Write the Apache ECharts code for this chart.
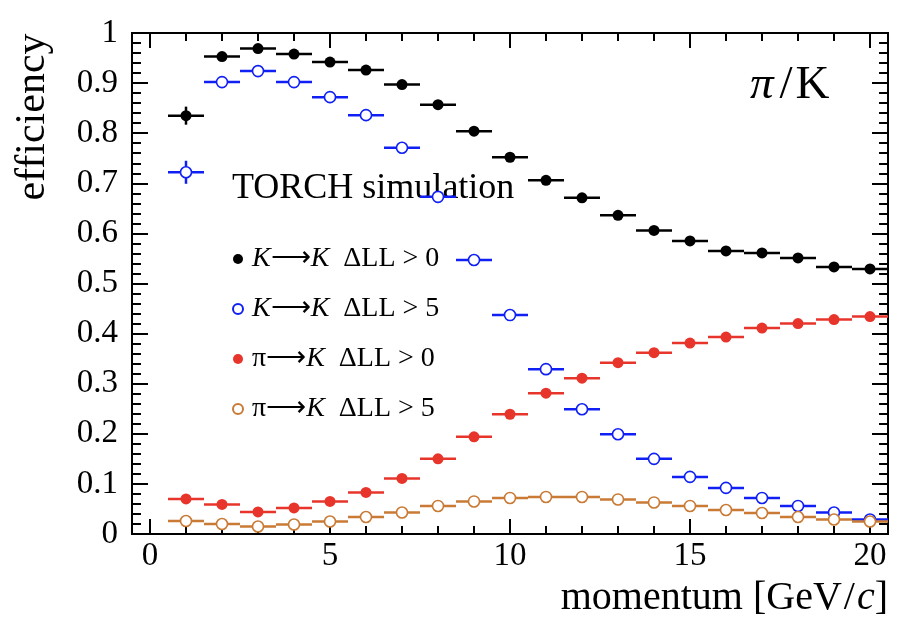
<!DOCTYPE html>
<html lang="en">

<head>
  <meta charset="UTF-8" />
  <title>TORCH simulation efficiency</title>
  <script src="https://cdn.jsdelivr.net/npm/echarts@6.0.0/dist/echarts.min.js"></script>
  <style>
    body {
      margin: 0;
      background: #fff;
    }

    #chart {
      width: 906px;
      height: 632px;
    }
  </style>
</head>

<body>
  <div id="chart"></div>

  <script>
    // momentum bins (GeV/c), bin half-width 0.5
    const momentum = [1, 2, 3, 4, 5, 6, 7, 8, 9, 10, 11, 12, 13, 14, 15, 16, 17, 18, 19, 20];

    const kkLL0 = [0.835, 0.953, 0.969, 0.958, 0.942, 0.926, 0.897, 0.857, 0.804, 0.752,
      0.706, 0.671, 0.636, 0.606, 0.585, 0.565, 0.561, 0.551, 0.533, 0.529];
    const kkLL0Err = [0.018, 0.004, 0.003, 0.003, 0.003, 0.003, 0.004, 0.004, 0.004, 0.004,
      0.004, 0.004, 0.004, 0.004, 0.004, 0.004, 0.004, 0.004, 0.004, 0.004];

    const kkLL5 = [0.722, 0.902, 0.924, 0.902, 0.872, 0.836, 0.771, 0.673, 0.547, 0.437,
      0.329, 0.249, 0.199, 0.150, 0.114, 0.092, 0.072, 0.056, 0.043, 0.029];
    const kkLL5Err = [0.023, 0.005, 0.004, 0.004, 0.004, 0.004, 0.004, 0.004, 0.005, 0.005,
      0.004, 0.004, 0.004, 0.003, 0.003, 0.003, 0.003, 0.002, 0.002, 0.002];

    const piKLL0 = [0.070, 0.059, 0.044, 0.052, 0.065, 0.083, 0.111, 0.150, 0.194, 0.239,
      0.281, 0.311, 0.342, 0.362, 0.381, 0.393, 0.411, 0.420, 0.428, 0.434];
    const piKLL0Err = [0.004, 0.003, 0.003, 0.003, 0.003, 0.003, 0.003, 0.003, 0.004, 0.004,
      0.004, 0.004, 0.004, 0.004, 0.004, 0.004, 0.004, 0.004, 0.004, 0.004];

    const piKLL5 = [0.026, 0.020, 0.015, 0.019, 0.025, 0.034, 0.043, 0.056, 0.065, 0.072,
      0.074, 0.074, 0.069, 0.063, 0.056, 0.048, 0.042, 0.034, 0.029, 0.025];
    const piKLL5Err = [0.002, 0.002, 0.002, 0.002, 0.002, 0.002, 0.002, 0.002, 0.002, 0.002,
      0.002, 0.002, 0.002, 0.002, 0.002, 0.002, 0.002, 0.002, 0.002, 0.002];

    const seriesNames = ["K→K ΔLL>0", "K→K ΔLL>5", "π→K ΔLL>0", "π→K ΔLL>5"];
    const legendLabels = [
      "{i|K}{a|⟶}{i|K}  ΔLL > 0",
      "{i|K}{a|⟶}{i|K}  ΔLL > 5",
      "π{a|⟶}{i|K}  ΔLL > 0",
      "π{a|⟶}{i|K}  ΔLL > 5",
    ];

    const xMajorTicks = [0, 5, 10, 15, 20];
    const xMinorTicks = [1, 2, 3, 4, 6, 7, 8, 9, 11, 12, 13, 14, 16, 17, 18, 19];

    const FONT = "Liberation Serif";
    const BIN_HALF = 0.5;

    const chart = echarts.init(document.getElementById("chart"));

    function errorBars(name, vals, errs, color) {
      return {
        name: name + " err",
        type: "custom",
        silent: true,
        z: 2,
        encode: { x: 0, y: 1 },
        data: momentum.map((x, i) => [x, vals[i], errs[i]]),
        renderItem: function (params, api) {
          const x = api.value(0);
          const y = api.value(1);
          const e = api.value(2);
          const l = api.coord([x - BIN_HALF, y]);
          const r = api.coord([x + BIN_HALF, y]);
          const lo = api.coord([x, y - e]);
          const hi = api.coord([x, y + e]);
          const style = { stroke: color, lineWidth: 2.5 };
          return {
            type: "group",
            children: [
              { type: "line", shape: { x1: l[0], y1: l[1], x2: r[0], y2: r[1] }, style: style },
              { type: "line", shape: { x1: lo[0], y1: lo[1], x2: hi[0], y2: hi[1] }, style: style },
            ],
          };
        },
      };
    }

    function markers(name, vals, color, open) {
      return {
        name: name,
        type: "scatter",
        z: 3,
        symbol: "circle",
        symbolSize: 11,
        data: momentum.map((x, i) => [x, vals[i]]),
        itemStyle: open
          ? { color: "#fff", borderColor: color, borderWidth: 1.6, opacity: 1 }
          : { color: color, opacity: 1 },
        emphasis: { disabled: true },
      };
    }

    function xAxisDef(position, ticks, len, showLabels) {
      return {
        type: "value",
        position: position,
        min: -0.5,
        max: 20.5,
        axisLine: { show: true, onZero: false, lineStyle: { color: "#000", width: 2 } },
        axisTick: {
          show: true,
          inside: true,
          length: len,
          customValues: ticks,
          lineStyle: { color: "#000", width: 2 },
        },
        axisLabel: {
          show: showLabels,
          customValues: ticks,
          margin: 6,
          color: "#000",
          fontFamily: FONT,
          fontSize: 33,
        },
        splitLine: { show: false },
      };
    }

    function yAxisDef(position, showLabels) {
      return {
        type: "value",
        position: position,
        min: 0,
        max: 1,
        interval: 0.1,
        axisLine: { show: true, onZero: false, lineStyle: { color: "#000", width: 2 } },
        axisTick: { show: true, inside: true, length: 16, lineStyle: { color: "#000", width: 2 } },
        minorTick: { show: true, splitNumber: 5, length: 9, lineStyle: { color: "#000", width: 2 } },
        axisLabel: {
          show: showLabels,
          margin: 14,
          color: "#000",
          fontFamily: FONT,
          fontSize: 33,
          formatter: (v) => (v === 0 || v === 1 ? String(v) : v.toFixed(1)),
        },
        splitLine: { show: false },
      };
    }

    const option = {
      backgroundColor: "#fff",
      animation: false,
      grid: { left: 132, right: 18, top: 33, bottom: 98 },
      xAxis: [
        xAxisDef("bottom", xMajorTicks, 15, true),
        xAxisDef("bottom", xMinorTicks, 8, false),
        xAxisDef("top", xMajorTicks, 15, false),
        xAxisDef("top", xMinorTicks, 8, false),
      ],
      yAxis: [yAxisDef("left", true), yAxisDef("right", false)],
      legend: {
        data: seriesNames,
        orient: "vertical",
        left: 227,
        top: 239,
        icon: "circle",
        itemWidth: 10,
        itemHeight: 10,
        itemGap: 20,
        selectedMode: false,
        formatter: (name) => legendLabels[seriesNames.indexOf(name)],
        textStyle: {
          fontFamily: FONT,
          fontSize: 28,
          color: "#000",
          lineHeight: 30,
          padding: [0, 0, 0, 4],
          rich: {
            i: { fontFamily: FONT, fontSize: 28, fontStyle: "italic", color: "#000", lineHeight: 30 },
            a: { fontFamily: FONT, fontSize: 28, color: "#000", lineHeight: 30 },
          },
        },
      },
      graphic: [
        {
          type: "text",
          left: 232,
          top: 171,
          style: { text: "TORCH simulation", font: "36px 'Liberation Serif'", fill: "#000" },
        },
        {
          type: "text",
          left: 750,
          top: 62,
          style: {
            text: "{p|π}{s|/}{n|K}",
            fill: "#000",
            rich: {
              p: { fontFamily: FONT, fontSize: 47, fontStyle: "italic" },
              s: { fontFamily: FONT, fontSize: 47, padding: [0, 3, 0, 6] },
              n: { fontFamily: FONT, fontSize: 47 },
            },
          },
        },
        {
          type: "text",
          x: 33,
          y: 117,
          rotation: Math.PI / 2,
          style: {
            text: "efficiency",
            font: "42px 'Liberation Serif'",
            fill: "#000",
            align: "center",
            verticalAlign: "middle",
          },
        },
        {
          type: "text",
          x: 888,
          y: 598,
          style: {
            text: "momentum [GeV{s|/}{i|c}]",
            font: "40px 'Liberation Serif'",
            fill: "#000",
            align: "right",
            verticalAlign: "middle",
            rich: {
              s: { fontFamily: FONT, fontSize: 40, padding: [0, 2, 0, 2] },
              i: { fontFamily: FONT, fontSize: 40, fontStyle: "italic" },
            },
          },
        },
      ],
      series: [
        errorBars(seriesNames[0], kkLL0, kkLL0Err, "#000"),
        markers(seriesNames[0], kkLL0, "#000", false),
        errorBars(seriesNames[1], kkLL5, kkLL5Err, "#1020f5"),
        markers(seriesNames[1], kkLL5, "#1020f5", true),
        errorBars(seriesNames[2], piKLL0, piKLL0Err, "#e8352b"),
        markers(seriesNames[2], piKLL0, "#e8352b", false),
        errorBars(seriesNames[3], piKLL5, piKLL5Err, "#c97a35"),
        markers(seriesNames[3], piKLL5, "#c97a35", true),
      ],
    };

    chart.setOption(option);
  </script>
</body>

</html>
